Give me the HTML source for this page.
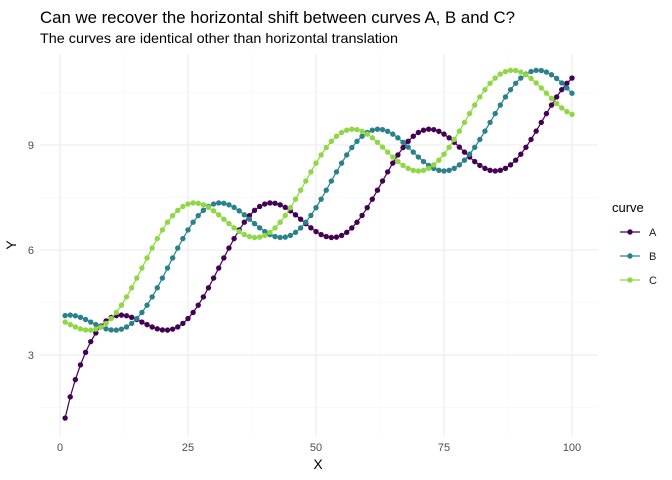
<!DOCTYPE html>
<html><head><meta charset="utf-8"><style>
html,body{margin:0;padding:0;background:#fff;width:672px;height:480px;overflow:hidden}
svg{display:block;font-family:"Liberation Sans",sans-serif}
</style></head><body>
<svg id="s" width="672" height="480" xmlns="http://www.w3.org/2000/svg">
<text x="40" y="23" font-size="16.8" fill="#000" textLength="475" lengthAdjust="spacingAndGlyphs">Can we recover the horizontal shift between curves A, B and C?</text>
<text x="40" y="43" font-size="13.8" fill="#000" textLength="358" lengthAdjust="spacingAndGlyphs">The curves are identical other than horizontal translation</text>
<g id="grid"></g>
<g id="data"></g>
<text x="318" y="469" font-size="14" text-anchor="middle">X</text>
<text transform="translate(16,245) rotate(-90)" font-size="14" text-anchor="middle">Y</text>
<text x="612" y="212" font-size="13">curve</text>
<g font-size="11" fill="#1a1a1a">
<line x1="620" y1="232" x2="640" y2="232" stroke="#440154" stroke-width="1.2"/><circle cx="630" cy="232" r="2.7" fill="#440154"/><text x="649" y="236">A</text>
<line x1="620" y1="256" x2="640" y2="256" stroke="#2A818C" stroke-width="1.2"/><circle cx="630" cy="256" r="2.7" fill="#2A818C"/><text x="649" y="260">B</text>
<line x1="620" y1="280" x2="640" y2="280" stroke="#8FD744" stroke-width="1.2"/><circle cx="630" cy="280" r="2.7" fill="#8FD744"/><text x="649" y="284">C</text>
</g>
</svg>
<script>
var NS="http://www.w3.org/2000/svg";
function px(x){return 60+x*5.12}
function py(y){return 355-(y-3)*35}
function el(p,t,a,txt){var e=document.createElementNS(NS,t);for(var k in a)e.setAttribute(k,a[k]);if(txt!=null)e.textContent=txt;p.appendChild(e);return e}
var g=document.getElementById('grid'),d=document.getElementById('data');
var L=40,R=598,T=54,B=436;
[12.5,37.5,62.5,87.5].forEach(function(v){el(g,'line',{x1:px(v),x2:px(v),y1:T,y2:B,stroke:'#f3f3f3','stroke-width':0.6})});
[1.5,4.5,7.5,10.5].forEach(function(v){el(g,'line',{x1:L,x2:R,y1:py(v),y2:py(v),stroke:'#f3f3f3','stroke-width':0.6})});
[0,25,50,75,100].forEach(function(v){el(g,'line',{x1:px(v),x2:px(v),y1:T,y2:B,stroke:'#ebebeb','stroke-width':1.1});el(g,'text',{x:px(v),y:451,'font-size':11,fill:'#4d4d4d','text-anchor':'middle'},String(v))});
[3,6,9].forEach(function(v){el(g,'line',{x1:L,x2:R,y1:py(v),y2:py(v),stroke:'#ebebeb','stroke-width':1.1});el(g,'text',{x:34,y:py(v)+4,'font-size':11,fill:'#4d4d4d','text-anchor':'end'},String(v))});
function f(x){return Math.sqrt(x)+Math.sin(x/5)}
[[0,'#440154'],[10,'#2A818C'],[15,'#8FD744']].forEach(function(c){
 var pts=[];for(var x=1;x<=100;x++)pts.push(px(x).toFixed(2)+','+py(f(x+c[0])).toFixed(2));
 el(d,'polyline',{points:pts.join(' '),fill:'none',stroke:c[1],'stroke-width':1.2});
 for(var x=1;x<=100;x++)el(d,'circle',{cx:px(x),cy:py(f(x+c[0])),r:2.7,fill:c[1]});
});
</script>
</body></html>
